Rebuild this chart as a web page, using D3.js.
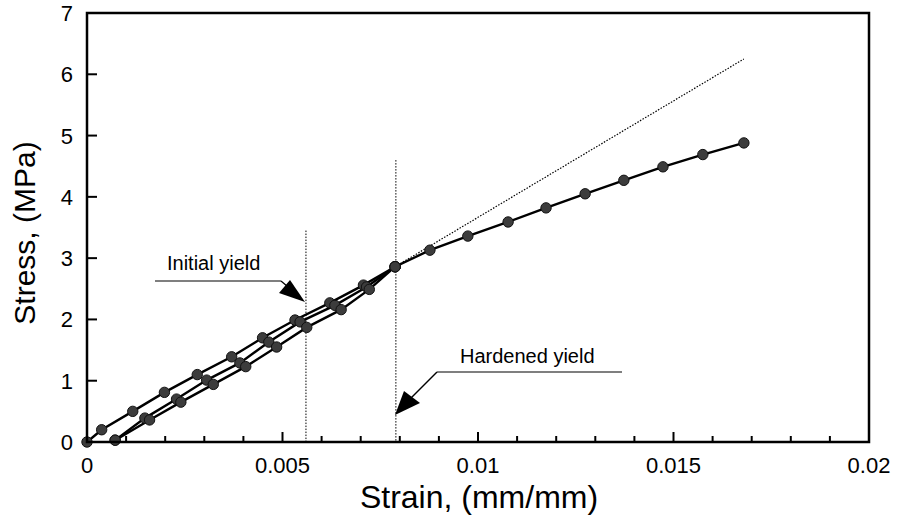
<!DOCTYPE html>
<html><head><meta charset="utf-8">
<script src="https://cdn.jsdelivr.net/npm/d3@7"></script>
<style>body{margin:0;background:#fff}svg{display:block}text{font-family:"Liberation Sans",Arial,sans-serif;fill:#000}</style>
</head><body>
<svg id="c" width="904" height="523"></svg>
<script>
// Data (strain mm/mm, stress MPa)
const loading1 = [[0,0],[0.000375,0.2],[0.00117,0.5],[0.00198,0.81],[0.00282,1.1],[0.0037,1.39],[0.00449,1.70],[0.00532,1.99],[0.00621,2.27],[0.00707,2.56],[0.00788,2.86]];
const unloading = [[0.00788,2.86],[0.00715,2.53],[0.00634,2.23],[0.00545,1.96],[0.00465,1.63],[0.00391,1.29],[0.00306,1.01],[0.00229,0.70],[0.00148,0.39],[0.00072,0.03]];
const reloading = [[0.00072,0.03],[0.0016,0.36],[0.0024,0.65],[0.00323,0.94],[0.00406,1.23],[0.00485,1.55],[0.00562,1.87],[0.0065,2.16],[0.00722,2.49],[0.00788,2.86]];
const hardening = [[0.00788,2.86],[0.00877,3.13],[0.00974,3.36],[0.01077,3.59],[0.01174,3.82],[0.01274,4.05],[0.01373,4.27],[0.01473,4.49],[0.01575,4.69],[0.0168,4.88]];
const elasticExt = [[0.00788,2.86],[0.0168,6.25]];
const yieldLines = [[0.0056,3.45],[0.0079,4.6]];
const xTicks = [0,0.005,0.01,0.015,0.02];
const xTickLabels = ["0","0.005","0.01","0.015","0.02"];
const yTicks = [0,1,2,3,4,5,6,7];

const svg = d3.select("#c");
const L=87,R=869,T=13,B=442;
const x = d3.scaleLinear().domain([0,0.02]).range([L,R]);
const y = d3.scaleLinear().domain([0,7]).range([B,T]);

// annotation lines
svg.selectAll(".yl").data(yieldLines).enter().append("line")
  .attr("x1",d=>x(d[0])).attr("x2",d=>x(d[0])).attr("y1",d=>y(d[1])).attr("y2",y(0))
  .attr("stroke","#000").attr("stroke-width",1).attr("stroke-dasharray","1.5,1.5");
svg.append("line").attr("x1",x(elasticExt[0][0])).attr("y1",y(elasticExt[0][1]))
  .attr("x2",x(elasticExt[1][0])).attr("y2",y(elasticExt[1][1]))
  .attr("stroke","#000").attr("stroke-width",1.2).attr("stroke-dasharray","1.5,1.5");

const line = d3.line().x(d=>x(d[0])).y(d=>y(d[1]));
[loading1,unloading,reloading,hardening].forEach(s=>{
  svg.append("path").attr("d",line(s)).attr("fill","none").attr("stroke","#000").attr("stroke-width",2.4);
});
[loading1,unloading,reloading,hardening].forEach(s=>{
  svg.append("g").selectAll("circle").data(s).enter().append("circle")
    .attr("cx",d=>x(d[0])).attr("cy",d=>y(d[1])).attr("r",5.2)
    .attr("fill","#3c3c3c").attr("stroke","#111").attr("stroke-width",1);
});

// Frame
svg.append("rect").attr("x",L).attr("y",T).attr("width",R-L).attr("height",B-T)
  .attr("fill","none").attr("stroke","#000").attr("stroke-width",2.5);

// X ticks
const xMinor = d3.range(0,0.02001,0.001);
svg.selectAll(".xt").data(xMinor).enter().append("line")
  .attr("x1",d=>x(d)).attr("x2",d=>x(d)).attr("y1",B)
  .attr("y2",(d,i)=> i%5===0 ? B-10 : B-6).attr("stroke","#000").attr("stroke-width",2);
svg.selectAll(".xl").data(xTicks).enter().append("text")
  .attr("x",d=>x(d)).attr("y",473).attr("text-anchor","middle").attr("font-size",22)
  .text((d,i)=>xTickLabels[i]);
// Y ticks
svg.selectAll(".yt").data(yTicks).enter().append("line")
  .attr("x1",L).attr("x2",L+10).attr("y1",d=>y(d)).attr("y2",d=>y(d)).attr("stroke","#000").attr("stroke-width",2);
svg.selectAll(".ylab").data(yTicks).enter().append("text")
  .attr("x",73).attr("y",d=>y(d)+8).attr("text-anchor","end").attr("font-size",22).text(d=>d);

// Axis titles
svg.append("text").attr("x",479).attr("y",508).attr("text-anchor","middle").attr("font-size",32).text("Strain, (mm/mm)");
svg.append("text").attr("transform","translate(35,233) rotate(-90)").attr("text-anchor","middle").attr("font-size",30).text("Stress, (MPa)");

// Annotations
svg.append("text").attr("x",167).attr("y",270).attr("font-size",20).text("Initial yield");
svg.append("line").attr("x1",155).attr("x2",281).attr("y1",281).attr("y2",281).attr("stroke","#000").attr("stroke-width",1.2);
svg.append("line").attr("x1",281).attr("y1",281).attr("x2",300).attr("y2",297).attr("stroke","#000").attr("stroke-width",1.2);
svg.append("path").attr("d","M305,302 L279,293 L290,280 Z").attr("fill","#000");

svg.append("text").attr("x",460).attr("y",363).attr("font-size",20).text("Hardened yield");
svg.append("line").attr("x1",437).attr("x2",622).attr("y1",372).attr("y2",372).attr("stroke","#000").attr("stroke-width",1.2);
svg.append("line").attr("x1",437).attr("y1",372).attr("x2",400).attr("y2",409).attr("stroke","#000").attr("stroke-width",1.5);
svg.append("path").attr("d","M395,415 L404,391 L420,403 Z").attr("fill","#000");
</script>
</body></html>
